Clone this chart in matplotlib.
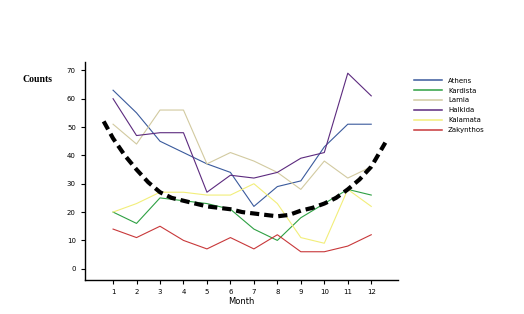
import matplotlib

matplotlib.use("Agg")
import matplotlib.pyplot as plt

months = [1, 2, 3, 4, 5, 6, 7, 8, 9, 10, 11, 12]
athens = [63, 55, 45, 41, 37, 34, 22, 29, 31, 43, 51, 51]
kardista = [20, 16, 25, 24, 23, 21, 14, 10, 18, 23, 28, 26]
lamia = [51, 44, 56, 56, 37, 41, 38, 34, 28, 38, 32, 36]
halkida = [60, 47, 48, 48, 27, 33, 32, 34, 39, 41, 69, 61]
kalamata = [20, 23, 27, 27, 26, 26, 30, 23, 11, 9, 28, 22]
zakynthos = [14, 11, 15, 10, 7, 11, 7, 12, 6, 6, 8, 12]

# overall trend curve
trend_x = [0.6, 1.0, 1.5, 2.0, 2.5, 3.0, 3.5, 4.0, 4.5, 5.0, 5.5, 6.0, 6.5,
           7.0, 7.5, 8.0, 8.5, 9.0, 9.5, 10.0, 10.5, 11.0, 11.5, 12.0, 12.6]
trend_y = [52, 46, 40, 35, 30.5, 27, 25, 24, 23, 22, 21.5, 21, 20,
           19.5, 19, 18.5, 19, 20.5, 21.5, 23, 25, 28, 31.5, 36, 44.5]

series = [
    ("Athens", athens, "#3a5a9c"),
    ("Kardista", kardista, "#2ea043"),
    ("Lamia", lamia, "#d2caa0"),
    ("Halkida", halkida, "#5c2a7e"),
    ("Kalamata", kalamata, "#f2ee7a"),
    ("Zakynthos", zakynthos, "#c8383a"),
]

fig = plt.figure(figsize=(5.24, 3.14), dpi=100)
ax = fig.add_axes([0.162, 0.108, 0.598, 0.695])

for name, vals, col in series:
    ax.plot(months, vals, color=col, lw=0.8, label=name)
ax.plot(trend_x, trend_y, color="black", lw=3, ls=(0, (2.2, 1.2)), zorder=5)

ax.set_xlim(-0.2, 13.15)
ax.set_ylim(-4, 73)
ax.set_xticks(months)
ax.set_yticks(range(0, 71, 10))
ax.tick_params(labelsize=5, length=3, width=0.8)
for side in ("top", "right"):
    ax.spines[side].set_visible(False)
for side in ("left", "bottom"):
    ax.spines[side].set_linewidth(1.0)

ax.set_xlabel("Month", fontsize=6, labelpad=1)
fig.text(0.042, 0.748, "Counts", fontsize=7, fontweight="bold",
         family="Liberation Serif", va="center")

leg = fig.legend(loc="upper left", bbox_to_anchor=(0.778, 0.772), frameon=False,
                 fontsize=5, handlelength=4.0, labelspacing=0.55,
                 handletextpad=0.9)
for h in leg.legend_handles:
    h.set_linewidth(1.1)

fig.savefig("out.png", dpi=100)
